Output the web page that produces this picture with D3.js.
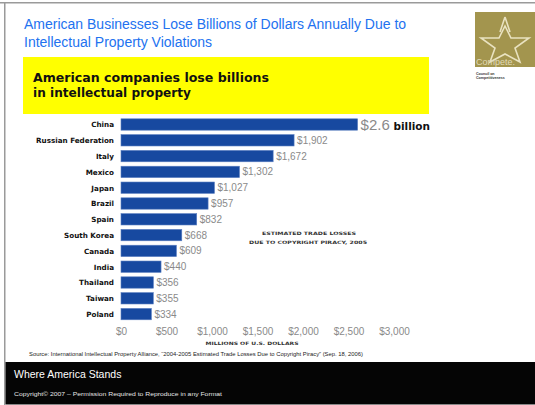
<!DOCTYPE html>
<html>
<head>
<meta charset="utf-8">
<script src="https://cdn.jsdelivr.net/npm/d3@7"></script>
<style>
  html, body { margin: 0; padding: 0; background: #fff; }
  svg { display: block; }
</style>
</head>
<body>
<svg id="chart" width="535" height="405"></svg>
<script>
// Estimated trade losses due to copyright piracy, 2005 (millions of US dollars)
const countries = ["China", "Russian Federation", "Italy", "Mexico", "Japan", "Brazil", "Spain",
  "South Korea", "Canada", "India", "Thailand", "Taiwan", "Poland"];
const losses = [2600, 1902, 1672, 1302, 1027, 957, 832, 668, 609, 440, 356, 355, 334];
const valueLabels = ["$2.6", "$1,902", "$1,672", "$1,302", "$1,027", "$957", "$832",
  "$668", "$609", "$440", "$356", "$355", "$334"];
const tickValues = [0, 500, 1000, 1500, 2000, 2500, 3000];

const svg = d3.select("#chart");
const SANS = "Liberation Sans, Arial, sans-serif";
const HEAVY = "DejaVu Sans, sans-serif";

// slide frame
svg.append("rect").attr("x", 0).attr("y", 0).attr("width", 535).attr("height", 405).attr("fill", "#fff");
svg.append("rect").attr("x", 0).attr("y", 2).attr("width", 535).attr("height", 1.5).attr("fill", "#9a9a9a");
svg.append("rect").attr("x", 4).attr("y", 2).attr("width", 1.5).attr("height", 403).attr("fill", "#9a9a9a");

// slide title
const title = svg.append("text")
  .attr("font-family", SANS)
  .attr("font-size", 14)
  .attr("fill", "#2272f0");
title.append("tspan").attr("x", 24).attr("y", 29).text("American Businesses Lose Billions of Dollars Annually Due to");
title.append("tspan").attr("x", 24).attr("y", 46.5).text("Intellectual Property Violations");

// logo block
const logo = svg.append("g");
logo.append("rect").attr("x", 475).attr("y", 12).attr("width", 60).attr("height", 55).attr("fill", "#a3954e");
logo.append("path")
  .attr("d", "M505,17 L500,32 M505,17 L510,32 M481,38 L499,38 L505,26 L511,38 L529,38 L515,48 L520,62 L505,54 L490,62 L495,48 Z")
  .attr("fill", "none").attr("stroke", "#e9e2c0").attr("stroke-width", 1.6);
logo.append("text").attr("x", 476).attr("y", 65).attr("font-family", SANS)
  .attr("font-size", 9).attr("fill", "#e0dab8").text("Compete.");
logo.append("text").attr("x", 476).attr("y", 75).attr("font-family", SANS)
  .attr("font-size", 3.6).attr("font-weight", "bold").attr("fill", "#333").text("Council on");
logo.append("text").attr("x", 476).attr("y", 79).attr("font-family", SANS)
  .attr("font-size", 3.6).attr("font-weight", "bold").attr("fill", "#333").text("Competitiveness");

// yellow headline box
svg.append("rect").attr("x", 23).attr("y", 57).attr("width", 406).attr("height", 57).attr("fill", "#ffff00");
const head = svg.append("text")
  .attr("font-family", HEAVY)
  .attr("font-size", 13).attr("font-weight", "bold").attr("fill", "#111");
head.append("tspan").attr("x", 33).attr("y", 82).attr("textLength", 236)
  .attr("lengthAdjust", "spacingAndGlyphs").text("American companies lose billions");
head.append("tspan").attr("x", 33).attr("y", 97).attr("textLength", 158)
  .attr("lengthAdjust", "spacingAndGlyphs").text("in intellectual property");

// scales
const x = d3.scaleLinear().domain([0, 3000]).range([121, 394]);
const y = d3.scaleBand().domain(countries).range([116.6, 322]).paddingInner(0.28).paddingOuter(0.14);

const data = countries.map((c, i) => ({ country: c, value: losses[i], label: valueLabels[i] }));

// bars
svg.append("g").selectAll("rect").data(data).join("rect")
  .attr("x", x(0))
  .attr("y", d => y(d.country))
  .attr("width", d => x(d.value) - x(0))
  .attr("height", y.bandwidth())
  .attr("fill", "#1749a0")
  .attr("stroke", "#5b7fc0").attr("stroke-width", 0.6);

// category labels
svg.append("g").selectAll("text").data(data).join("text")
  .attr("x", 114)
  .attr("y", d => y(d.country) + y.bandwidth() / 2 + 2.8)
  .attr("text-anchor", "end")
  .attr("font-family", HEAVY)
  .attr("font-size", 7.2).attr("font-weight", "bold").attr("fill", "#111")
  .text(d => d.country);

// value labels
svg.append("g").selectAll("text").data(data).join("text")
  .attr("x", d => x(d.value) + 3)
  .attr("y", d => y(d.country) + y.bandwidth() / 2 + (d.country === "China" ? 5 : 3.5))
  .attr("font-family", SANS)
  .attr("font-size", d => d.country === "China" ? 15 : 10)
  .attr("fill", "#8a8a8a")
  .text(d => d.label)
  .each(function (d) {
    if (d.country === "China") {
      d3.select(this).append("tspan")
        .attr("font-family", HEAVY)
        .attr("font-size", 10.5).attr("font-weight", "bold").attr("fill", "#111")
        .text(" billion");
    }
  });

// x axis
const axis = svg.append("g").attr("transform", "translate(0,322)")
  .call(d3.axisBottom(x).tickValues(tickValues).tickSize(0).tickPadding(6)
    .tickFormat(d => "$" + d3.format(",")(d)));
axis.select(".domain").remove();
axis.selectAll("text")
  .attr("font-family", SANS)
  .attr("font-size", 10).attr("fill", "#8a8a8a");

svg.append("text").attr("x", 252).attr("y", 345).attr("text-anchor", "middle")
  .attr("font-family", HEAVY)
  .attr("font-size", 4.5).attr("font-weight", "bold").attr("fill", "#333")
  .attr("textLength", 93).attr("lengthAdjust", "spacingAndGlyphs").text("MILLIONS OF U.S. DOLLARS");

// chart annotation
const note = svg.append("text").attr("text-anchor", "middle")
  .attr("font-family", HEAVY)
  .attr("font-size", 4.5).attr("font-weight", "bold").attr("fill", "#333");
note.append("tspan").attr("x", 309).attr("y", 235).attr("textLength", 94)
  .attr("lengthAdjust", "spacingAndGlyphs").text("ESTIMATED TRADE LOSSES");
note.append("tspan").attr("x", 308).attr("y", 243.5).attr("textLength", 118)
  .attr("lengthAdjust", "spacingAndGlyphs").text("DUE TO COPYRIGHT PIRACY, 2005");

// source
svg.append("text").attr("x", 29).attr("y", 355.5)
  .attr("font-family", SANS)
  .attr("font-size", 5.5).attr("fill", "#222")
  .attr("textLength", 334).attr("lengthAdjust", "spacingAndGlyphs")
  .text("Source: International Intellectual Property Alliance, \u201C2004-2005 Estimated Trade Losses Due to Copyright Piracy\u201D (Sep. 18, 2006)");

// footer band
svg.append("rect").attr("x", 5.5).attr("y", 362).attr("width", 529.5).attr("height", 42).attr("fill", "#050505");
svg.append("rect").attr("x", 5.5).attr("y", 404).attr("width", 529.5).attr("height", 1).attr("fill", "#888");
svg.append("text").attr("x", 14).attr("y", 377.5)
  .attr("font-family", SANS)
  .attr("font-size", 10.5).attr("fill", "#fff").text("Where America Stands");
svg.append("text").attr("x", 14).attr("y", 395.5)
  .attr("font-family", SANS)
  .attr("font-size", 6).attr("fill", "#e6e6e6")
  .attr("textLength", 208).attr("lengthAdjust", "spacingAndGlyphs")
  .text("Copyright\u00A9 2007 \u2013 Permission Required to Reproduce in any Format");
</script>
</body>
</html>
